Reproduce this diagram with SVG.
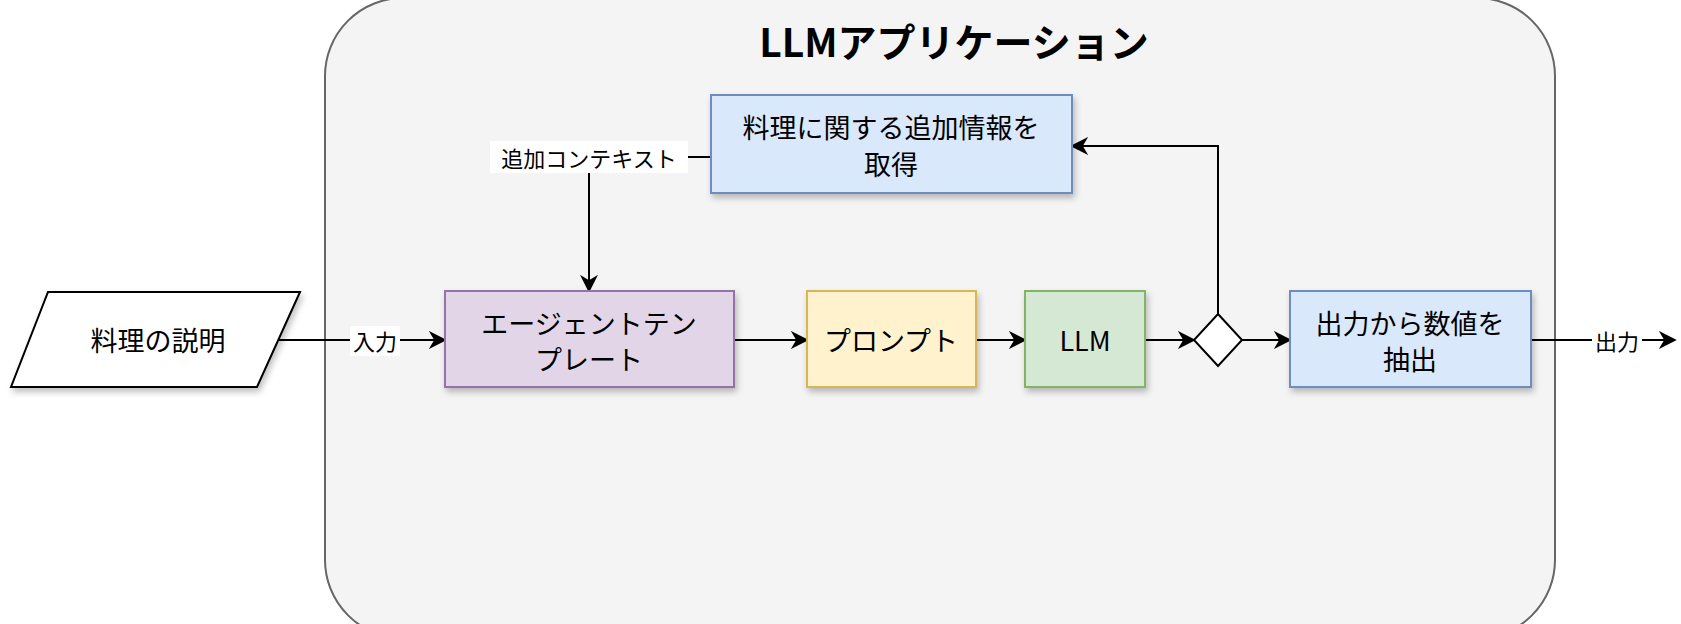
<svg xmlns="http://www.w3.org/2000/svg" width="1681" height="624" viewBox="0 0 1681 624">
<style>
text{font-family:"Noto Sans CJK JP","Liberation Sans",sans-serif;text-anchor:middle;dominant-baseline:central;fill:#000}
.n{font-size:27px}
.l{font-size:22px}
.c{fill:none;stroke:#000;stroke-width:2}
</style>
<defs>
<marker id="b" viewBox="0 0 10 10" markerWidth="18" markerHeight="18" refX="9" refY="5" orient="auto" markerUnits="userSpaceOnUse"><path d="M0,0L10,5L0,10L3,5Z" fill="#000"/></marker>
<filter id="s" x="-10%" y="-10%" width="130%" height="140%"><feDropShadow dx="2" dy="4" stdDeviation="3" flood-opacity="0.25"/></filter>
</defs>
<rect width="1681" height="624" fill="#fff"/>
<g id="container"><rect x="325" y="-2" width="1230" height="640" rx="78" fill="#f4f4f4" stroke="#666" stroke-width="2"/>
<text x="954" y="40" style="font-size:39px;font-weight:bold" fill="#333">LLMアプリケーション</text></g>
<g id="connectors">
<path class="c" d="M257,340H445" marker-end="url(#b)"/>
<path class="c" d="M734,340H807" marker-end="url(#b)"/>
<path class="c" d="M976,340H1025" marker-end="url(#b)"/>
<path class="c" d="M1145,340H1194" marker-end="url(#b)"/>
<path class="c" d="M1242,340H1290" marker-end="url(#b)"/>
<path class="c" d="M1531,340H1675" marker-end="url(#b)"/>
<path class="c" d="M1218,314V146H1072" marker-end="url(#b)"/>
<path class="c" d="M711,157H589V291" marker-end="url(#b)"/>
<rect x="350" y="326" width="50" height="30" fill="#fff"/><text class="l" x="375" y="340">入力</text>
<rect x="1592" y="326" width="50" height="30" fill="#fff"/><text class="l" x="1617" y="340">出力</text>
<rect x="490" y="141" width="198" height="32" fill="#fff"/><text class="l" x="589" y="157">追加コンテキスト</text>
</g>
<g id="n1"><polygon points="48,292 300,292 257,387 11,387" fill="#fff" stroke="#000" stroke-width="2" filter="url(#s)"/><text class="n" x="158" y="339">料理の説明</text></g>
<g id="n2"><rect x="445" y="291" width="289" height="96" fill="#e1d5e7" stroke="#9673a6" stroke-width="2" filter="url(#s)"/><text class="n" x="589" y="322">エージェントテン</text><text class="n" x="589" y="358">プレート</text></g>
<g id="n3"><rect x="807" y="291" width="169" height="96" fill="#fff2cc" stroke="#d6b656" stroke-width="2" filter="url(#s)"/><text class="n" x="891" y="339">プロンプト</text></g>
<g id="n4"><rect x="1025" y="291" width="120" height="96" fill="#d5e8d4" stroke="#82b366" stroke-width="2" filter="url(#s)"/><text class="n" x="1085" y="339">LLM</text></g>
<g id="n5"><polygon points="1218,314 1242,340 1218,366 1194,340" fill="#fff" stroke="#000" stroke-width="2"/></g>
<g id="n6"><rect x="1290" y="291" width="241" height="96" fill="#dae8fc" stroke="#6c8ebf" stroke-width="2" filter="url(#s)"/><text class="n" x="1410" y="322">出力から数値を</text><text class="n" x="1410" y="358">抽出</text></g>
<g id="n7"><rect x="711" y="95" width="361" height="98" fill="#dae8fc" stroke="#6c8ebf" stroke-width="2" filter="url(#s)"/><text class="n" x="891" y="126">料理に関する追加情報を</text><text class="n" x="891" y="163">取得</text></g>
</svg>
